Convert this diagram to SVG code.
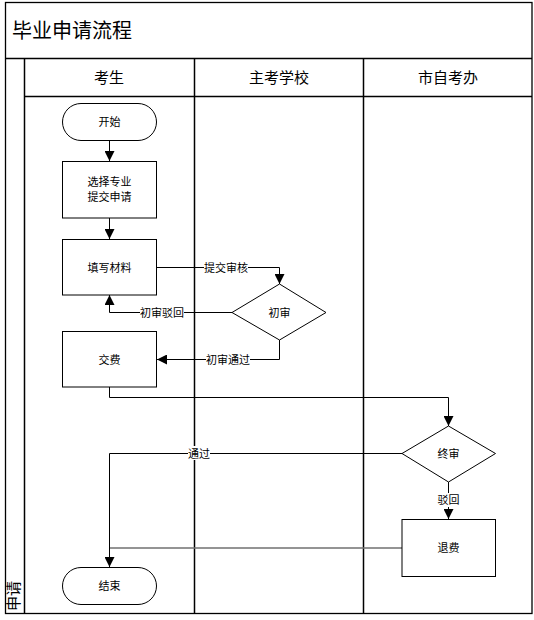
<svg xmlns="http://www.w3.org/2000/svg" width="534" height="620" viewBox="0 0 534 620">
<defs>
<style>
text{font-family:"Liberation Sans","Noto Sans CJK SC",sans-serif;fill:#000;}
.frame{fill:none;stroke:#000;stroke-width:1.3;}
.lane{fill:none;stroke:#000;stroke-width:1.5;}
.node{fill:#fff;stroke:#000;stroke-width:1;}
.lbl{font-size:11px;text-anchor:middle;dominant-baseline:central;}
.hdr{font-size:15px;text-anchor:middle;dominant-baseline:central;}
.edge{fill:none;stroke:#000;stroke-width:1;}
.grey{fill:none;stroke:#707070;stroke-width:1.5;}
.bg{fill:#fff;}
</style>
<marker id="arr" viewBox="0 0 10 10" refX="10" refY="5" markerWidth="10" markerHeight="10" markerUnits="userSpaceOnUse" orient="auto">
<path d="M0,0 L10,5 L0,10 z" fill="#000"/>
</marker>
</defs>
<rect x="0" y="0" width="534" height="620" fill="#fff"/>
<g id="pool">
<rect class="frame" x="5.5" y="2.5" width="526.5" height="611"/>
<line class="frame" x1="5.5" y1="58.5" x2="532" y2="58.5"/>
<text x="12" y="31" style="font-size:20px;dominant-baseline:central">毕业申请流程</text>
<line class="lane" x1="24.5" y1="58.5" x2="24.5" y2="613.5"/>
<line class="lane" x1="24.5" y1="96.5" x2="532" y2="96.5"/>
<line class="lane" x1="194.5" y1="58.5" x2="194.5" y2="613.5"/>
<line class="lane" x1="363.5" y1="58.5" x2="363.5" y2="613.5"/>
<text class="lbl" style="font-size:15px" transform="translate(13.5,596) rotate(-90)">申请</text>
</g>
<g id="lane-headers">
<text class="hdr" x="109" y="77">考生</text>
<text class="hdr" x="279" y="77">主考学校</text>
<text class="hdr" x="448" y="77">市自考办</text>
</g>
<g id="connectors">
<path class="edge" d="M109.5,140 V161" marker-end="url(#arr)"/>
<path class="edge" d="M109.5,218 V239" marker-end="url(#arr)"/>
<path class="edge" d="M157,267.5 H279.5 V284" marker-end="url(#arr)"/>
<path class="edge" d="M232,312.5 H109.5 V295" marker-end="url(#arr)"/>
<path class="edge" d="M279.5,340 V359.5 H157" marker-end="url(#arr)"/>
<path class="edge" d="M109.5,387 V397.5 H448.5 V426" marker-end="url(#arr)"/>
<path class="edge" d="M402,453.5 H109.5 V567" marker-end="url(#arr)"/>
<path class="edge" d="M448.5,482 V519" marker-end="url(#arr)"/>
<path class="grey" d="M402,548 H110"/>
<rect class="bg" x="204" y="260" width="44" height="14"/>
<text class="lbl" x="226" y="267.5">提交审核</text>
<rect class="bg" x="140" y="305" width="44" height="14"/>
<text class="lbl" x="162" y="312.5">初审驳回</text>
<rect class="bg" x="206" y="352" width="44" height="14"/>
<text class="lbl" x="228" y="359.5">初审通过</text>
<rect class="bg" x="188" y="446" width="22" height="14"/>
<text class="lbl" x="199" y="453.5">通过</text>
<rect class="bg" x="437" y="493" width="22" height="14"/>
<text class="lbl" x="448.5" y="500">驳回</text>
</g>
<g id="start">
<rect class="node" x="62.5" y="103.5" width="94" height="37" rx="18.5" ry="18.5"/>
<text class="lbl" x="109.5" y="122">开始</text>
</g>
<g id="select">
<rect class="node" x="62.5" y="161.5" width="94" height="56.5"/>
<text class="lbl" x="109.5" y="182">选择专业</text>
<text class="lbl" x="109.5" y="197">提交申请</text>
</g>
<g id="fill">
<rect class="node" x="62.5" y="239.5" width="94" height="55.5"/>
<text class="lbl" x="109.5" y="267.5">填写材料</text>
</g>
<g id="first-review">
<polygon class="node" points="279.5,284 326,312.5 279.5,340 232,312.5"/>
<text class="lbl" x="279.5" y="312.5">初审</text>
</g>
<g id="pay">
<rect class="node" x="62.5" y="331.5" width="94" height="55.5"/>
<text class="lbl" x="109.5" y="359.5">交费</text>
</g>
<g id="final-review">
<polygon class="node" points="448.5,426 495.5,453.5 448.5,482 402,453.5"/>
<text class="lbl" x="448.5" y="453.5">终审</text>
</g>
<g id="refund">
<rect class="node" x="402" y="519.5" width="93.5" height="57"/>
<text class="lbl" x="448.5" y="548">退费</text>
</g>
<g id="end">
<rect class="node" x="62.5" y="567.5" width="94" height="37" rx="18.5" ry="18.5"/>
<text class="lbl" x="109.5" y="586">结束</text>
</g>
</svg>
